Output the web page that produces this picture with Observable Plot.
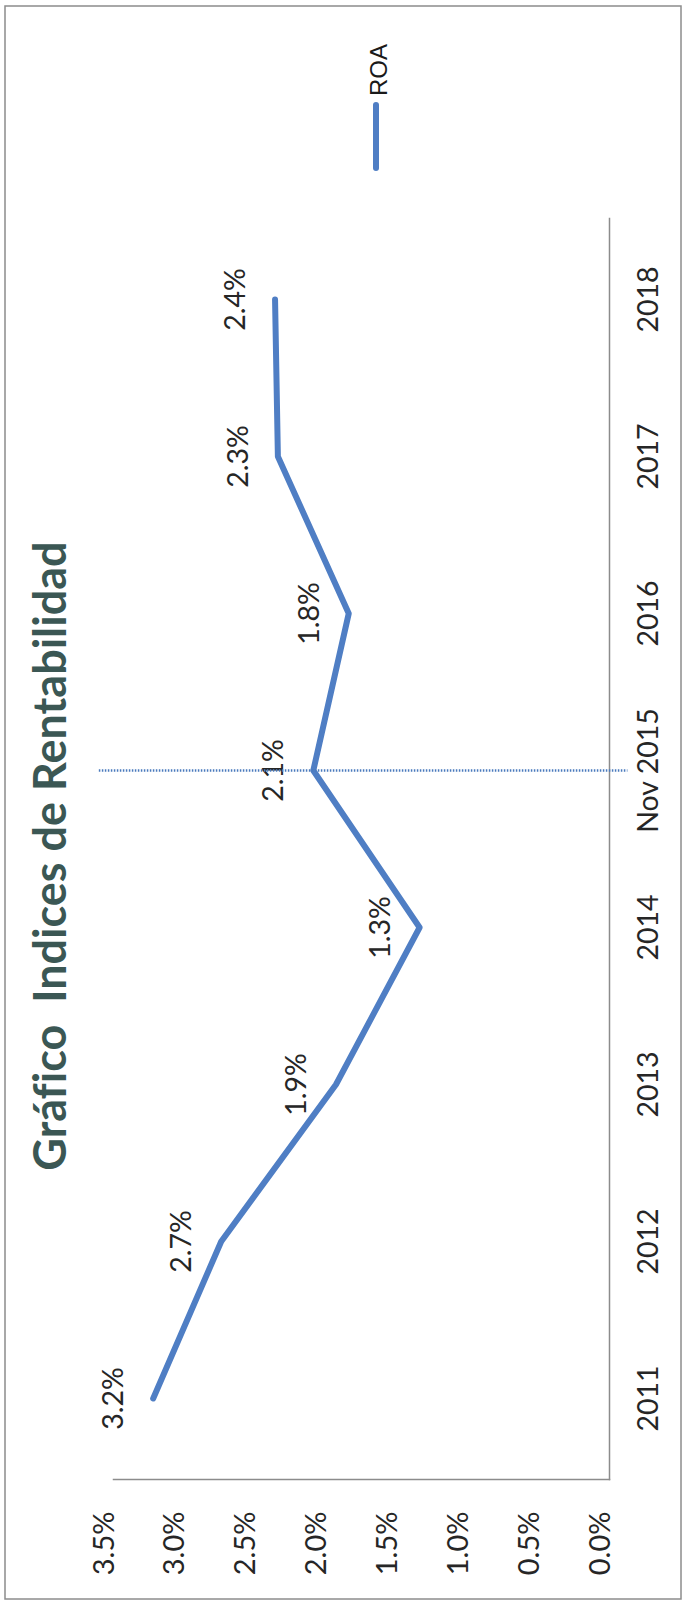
<!DOCTYPE html>
<html>
<head>
<meta charset="utf-8">
<script src="https://cdn.jsdelivr.net/npm/d3@7"></script>
<script src="https://cdn.jsdelivr.net/npm/@observablehq/plot@0.6"></script>
<style>
  html, body { margin: 0; padding: 0; background: #fff; }
  #chart svg { display: block; font-variant-ligatures: none; }
</style>
</head>
<body>
<div id="chart"></div>
<script>
// Periods along the category axis and the ROA series (percent)
const periods = ["2011", "2012", "2013", "2014", "Nov 2015", "2016", "2017", "2018"];
const roa = [3.22, 2.74, 1.93, 1.34, 2.09, 1.84, 2.34, 2.36];
const valueTicks = [0, 0.5, 1, 1.5, 2, 2.5, 3, 3.5];

// Reference marker at the Nov 2015 cut-off, drawn a little past both ends of the value axis
const markerPeriod = "Nov 2015";
const markerSpan = [3.6, -0.13];

const title = "Gráfico \u00a0Indices de Rentabilidad";
const seriesName = "ROA";

const rows = periods.map((period, i) => ({period, roa: roa[i]}));
const pct = v => v.toFixed(1) + "%";

const blue = "#4f7ec4";
const ink = "#262626";
const axisGray = "#8c8c8c";

// Outer border of the figure
function border(index, scales, values, dims) {
  const g = d3.create("svg:g");
  g.append("rect")
    .attr("x", 5).attr("y", 6)
    .attr("width", dims.width - 10).attr("height", dims.height - 13)
    .attr("fill", "none").attr("stroke", axisGray).attr("stroke-width", 1.5);
  return g.node();
}

// Series key: a short line with the series name, turned with the chart
function legend(index, scales, values, dims) {
  const g = d3.create("svg:g").attr("transform", "translate(376,0)");
  g.append("line")
    .attr("x1", 0).attr("x2", 0).attr("y1", 105).attr("y2", 168)
    .attr("stroke", blue).attr("stroke-width", 6).attr("stroke-linecap", "round");
  g.append("text")
    .attr("transform", "translate(3,96) rotate(-90)")
    .attr("dy", "0.35em")
    .attr("text-anchor", "start")
    .attr("font-family", "'Liberation Sans', Arial, sans-serif")
    .attr("font-size", 24)
    .attr("fill", "#1a1a1a")
    .text(seriesName);
  return g.node();
}

const chart = Plot.plot({
  width: 686,
  height: 1606,
  marginLeft: 113,
  marginRight: 77,
  marginTop: 218,
  marginBottom: 127,
  style: {fontFamily: "Lato, 'Open Sans', sans-serif", background: "#fff"},
  x: {domain: [0, 3.5], reverse: true, axis: null},
  y: {type: "point", domain: periods, reverse: true, padding: 0.5, axis: null},
  marks: [
    border,
    Plot.frame({anchor: "bottom", stroke: axisGray, strokeWidth: 1.5}),
    Plot.frame({anchor: "right", stroke: axisGray, strokeWidth: 1.5}),
    // value axis labels
    Plot.text(valueTicks, {
      x: d => d, text: pct, frameAnchor: "bottom", dy: 32,
      rotate: -90, textAnchor: "end", fontSize: 29, fill: ink
    }),
    // category axis labels
    Plot.text(periods, {
      y: d => d, text: d => d, frameAnchor: "right", dx: 39,
      rotate: -90, textAnchor: "middle", fontSize: 28.5, fill: ink
    }),
    // title
    Plot.text([title], {
      text: d => d, frameAnchor: "left", dx: -62, dy: 7,
      rotate: -90, textAnchor: "middle", fontSize: 45, fontWeight: "bold", fill: "#3b5754"
    }),
    Plot.line(rows, {
      x: "roa", y: "period", stroke: blue, strokeWidth: 6,
      strokeLinejoin: "round", strokeLinecap: "round"
    }),
    // data labels
    Plot.text(rows, {
      x: "roa", y: "period", text: d => pct(d.roa), dx: -39,
      rotate: -90, textAnchor: "middle", fontSize: 28.5, fill: ink
    }),
    Plot.ruleY([markerPeriod], {
      y: d => d, x1: markerSpan[0], x2: markerSpan[1],
      stroke: "#4b7bbd", strokeWidth: 2.5, strokeDasharray: "1.5,1.5"
    }),
    legend
  ]
});

document.getElementById("chart").append(chart);
</script>
</body>
</html>
